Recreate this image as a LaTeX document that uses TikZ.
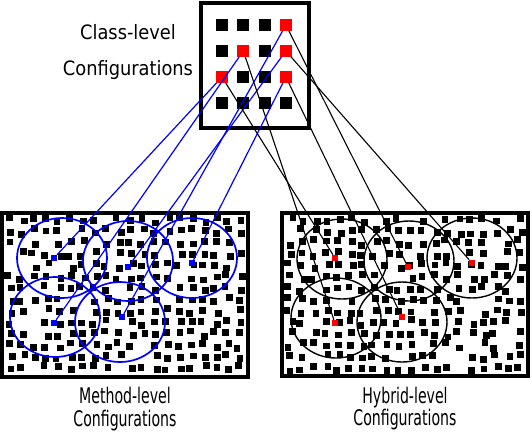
\documentclass[tikz,border=0pt]{standalone}
\usepackage{fontspec}
\usetikzlibrary{positioning}
\newfontfamily\labelfont{DejaVu Sans Condensed}
\newfontfamily\sublabelfont[FakeStretch=0.73]{DejaVu Sans Condensed}
\begin{document}
\begin{tikzpicture}[
    x=1pt,y=-1pt,
    every node/.style={inner sep=0pt,outer sep=0pt},
    toplabel/.style={font=\labelfont\fontsize{19.8}{35.5}\selectfont,align=center},
    sublabel/.style={font=\sublabelfont\fontsize{21.5}{22.5}\selectfont,align=center},
    frame/.style={draw,line width=3.2pt},
    cell/.style={fill=black,minimum size=12pt},
    redcell/.style={cell,fill=red},
    speck/.style={fill=black,minimum size=6.8pt},
    bluedot/.style={fill=blue,minimum size=6.5pt},
    reddot/.style={fill=red,minimum size=6.5pt},
    bluering/.style={draw=blue,line width=1.7pt},
    blackring/.style={draw=black,line width=1.4pt},
    blueline/.style={draw=blue,line width=1.2pt},
    blackline/.style={draw=black,line width=1.1pt}
]
\useasboundingbox (0,0) rectangle (532,432);

% the three configuration spaces
\node[frame,line width=4pt,minimum width=108pt,minimum height=125pt] (class) at (255,65.5) {};
\node[frame,minimum width=246pt,minimum height=164pt] (method) at (125,295) {};
\node[frame,minimum width=246pt,minimum height=163pt] (hybrid) at (405,294.5) {};

\node[toplabel] (classlbl) at (128,52) {Class-level\\Configurations};
\node[sublabel,below=10.5pt of method] (methodlbl) {Method-level\\Configurations};
\node[sublabel,below=11pt of hybrid] (hybridlbl) {Hybrid-level\\Configurations};

% scattered configurations
\pgfmathsetseed{7}
\foreach \bx in {0,280} {
  \foreach \i in {0,...,19} \foreach \j in {0,...,13} {
    \pgfmathsetmacro{\keep}{rnd}
    \ifdim\keep pt>0.12pt
      \node[speck] (s\bx-\i-\j) at ({\bx+10+12.1*\i+6*(rnd-0.5)},{220+11.4*\j+6*(rnd-0.5)}) {};
    \fi
  }
}

% neighbourhoods
\foreach \cx/\cy in {62/258,128/261,192/258,55/317,120/322}
  \draw[bluering] (\cx,\cy) ellipse [x radius=45pt,y radius=40pt];
\foreach \cx/\cy in {342/259,409/261,472/258,336/318,402/322}
  \draw[blackring] (\cx,\cy) ellipse [x radius=45pt,y radius=40pt];

\node[bluedot] (mA) at (54,258) {};
\node[bluedot] (mB) at (128,267) {};
\node[bluedot] (mC) at (192,263) {};
\node[bluedot] (mD) at (54,323) {};
\node[bluedot] (mE) at (122,317) {};
\node[reddot] (hA) at (335,258) {};
\node[reddot] (hB) at (408,267) {};
\node[reddot] (hC) at (472,263) {};
\node[reddot] (hD) at (335,323) {};
\node[reddot] (hE) at (402,317) {};

% class-level grid
\foreach \r/\c in {1/1,1/2,1/3,2/1,2/3,3/2,3/3,4/1,4/2,4/3,4/4}
  \node[cell] (c\r\c) at ({200.7+21.3*\c},{-1+26*\r}) {};
\foreach \r/\c in {1/4,2/2,2/4,3/1,3/4}
  \node[redcell] (r\r\c) at ({200.7+21.3*\c},{-1+26*\r}) {};

\draw[blueline] (r31) -- (mA);
\draw[blueline] (r22) -- (mD);
\draw[blueline] (r24) -- (mB);
\draw[blueline] (r14) -- (mE);
\draw[blueline] (r34) -- (mC);
\draw[blackline] (r31) -- (hA);
\draw[blackline] (r22) -- (hD);
\draw[blackline] (r24) -- (hC);
\draw[blackline] (r14) -- (hB);
\draw[blackline] (r34) -- (hE);
\end{tikzpicture}
\end{document}
